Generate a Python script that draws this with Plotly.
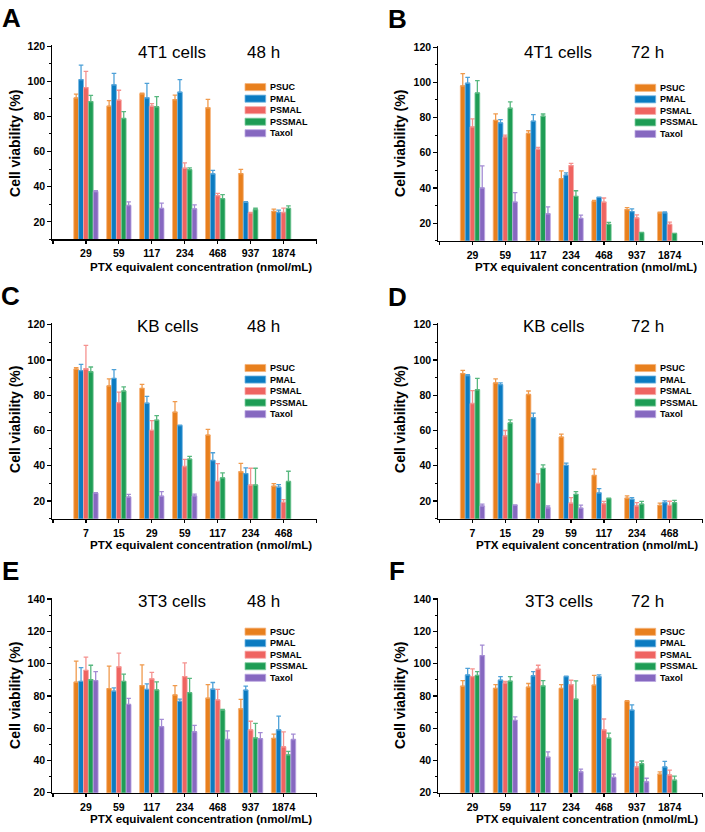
import plotly.graph_objects as go

# ---------------- data ----------------
series = ["PSUC", "PMAL", "PSMAL", "PSSMAL", "Taxol"]
fill_colors = ["#E8801E", "#0B7BC1", "#EF6461", "#1E9D55", "#8668C0"]
edge_colors = ["#F6B47C", "#72B5E2", "#F8AAA8", "#86CFA3", "#BDAAE2"]
err_colors = ["#F09A4C", "#4EA1D8", "#F5928F", "#58B87F", "#A48CD4"]

conc_4t1 = ["29", "59", "117", "234", "468", "937", "1874"]
conc_kb = ["7", "15", "29", "59", "117", "234", "468"]
conc_3t3 = ["29", "59", "117", "234", "468", "937", "1874"]

# rows: PSUC, PMAL, PSMAL, PSSMAL, Taxol
a_mean = [
    [90.5, 85.8, 92.9, 89.5, 84.9, 47.4, 25.9],
    [100.9, 98.0, 90.6, 93.8, 47.3, 31.2, 25.3],
    [96.4, 89.3, 85.8, 50.5, 34.9, 25.1, 25.3],
    [88.4, 78.8, 85.5, 49.7, 33.2, 27.0, 27.6],
    [37.2, 29.3, 27.6, 27.4, None, None, None],
]
a_err = [
    [2.2, 3.2, 0.4, 2.6, 4.8, 2.4, 1.3],
    [8.3, 6.5, 8.2, 7.1, 2.0, 0.3, 1.3],
    [9.2, 5.6, 1.5, 3.1, 1.3, 0.3, 2.5],
    [3.6, 3.9, 5.8, 1.0, 2.3, 0.8, 1.5],
    [0.5, 2.0, 3.0, 2.2, None, None, None],
]
b_mean = [
    [98.0, 78.4, 71.0, 45.3, 32.4, 27.7, 25.9],
    [99.5, 77.0, 78.0, 47.3, 34.6, 26.6, 25.9],
    [74.7, 69.0, 62.0, 52.7, 32.0, 23.0, 19.3],
    [94.0, 85.3, 80.8, 35.2, 19.3, 14.7, 14.2],
    [40.0, 32.0, 25.3, 22.7, None, None, None],
]
b_err = [
    [7.0, 3.7, 1.5, 4.4, 0.6, 1.1, 0.4],
    [3.3, 1.8, 3.7, 1.3, 0.2, 1.5, 0.5],
    [4.5, 1.0, 1.0, 1.3, 2.3, 1.7, 1.3],
    [7.0, 3.6, 1.2, 3.2, 1.2, 0.0, 0.0],
    [12.5, 5.3, 3.9, 1.9, None, None, None],
]
c_mean = [
    [94.8, 85.3, 83.8, 70.4, 57.4, 36.6, 28.4],
    [94.0, 89.5, 75.5, 62.8, 43.0, 35.6, 27.9],
    [95.0, 75.8, 60.1, 39.6, 31.2, 29.1, 19.3],
    [93.3, 82.4, 65.9, 43.8, 33.2, 29.1, 31.1],
    [24.5, 22.3, 22.8, 22.9, None, None, None],
]
c_err = [
    [0.8, 4.0, 2.4, 6.0, 3.2, 4.8, 1.5],
    [3.5, 5.0, 3.8, 0.3, 4.4, 3.2, 1.4],
    [13.3, 6.0, 5.5, 4.0, 10.0, 9.5, 1.5],
    [2.7, 2.3, 2.5, 1.5, 2.8, 9.5, 5.8],
    [0.3, 1.5, 2.6, 1.0, None, None, None],
]
d_mean = [
    [92.3, 87.0, 80.4, 56.3, 34.5, 21.6, 17.5],
    [91.1, 86.0, 67.3, 40.2, 24.6, 21.0, 19.1],
    [75.3, 57.0, 30.0, 18.8, 18.5, 17.3, 17.6],
    [83.1, 64.3, 38.5, 23.8, 21.4, 18.3, 19.1],
    [17.2, 17.6, 16.2, 16.0, None, None, None],
]
d_err = [
    [1.8, 2.3, 2.0, 1.6, 3.6, 1.3, 1.3],
    [0.5, 1.0, 2.6, 1.3, 2.5, 1.0, 1.0],
    [7.3, 3.0, 5.4, 3.2, 1.3, 1.8, 2.3],
    [6.5, 1.7, 2.0, 1.6, 0.3, 1.5, 1.3],
    [1.1, 0.2, 1.0, 1.7, None, None, None],
]
e_mean = [
    [88.5, 84.5, 86.4, 80.6, 78.6, 72.0, 53.7],
    [89.0, 83.0, 84.0, 76.6, 84.2, 83.6, 59.0],
    [95.8, 98.0, 90.6, 92.0, 77.5, 59.0, 48.5],
    [90.0, 89.0, 83.7, 82.0, 71.3, 54.0, 43.5],
    [89.5, 74.7, 61.0, 57.8, 53.0, 53.5, 53.0],
]
e_err = [
    [13.0, 14.0, 12.8, 5.8, 8.4, 5.8, 2.6],
    [8.5, 2.0, 3.5, 1.4, 4.1, 2.4, 8.5],
    [8.2, 8.5, 4.0, 8.4, 6.5, 5.3, 9.2],
    [9.0, 4.5, 5.0, 8.8, 0.3, 9.0, 2.1],
    [5.5, 3.8, 4.5, 4.0, 5.3, 3.8, 3.3],
]
f_mean = [
    [86.0, 84.7, 85.5, 84.7, 86.7, 76.6, 31.5],
    [93.0, 89.8, 92.5, 92.0, 91.8, 71.2, 36.0],
    [92.0, 88.0, 96.5, 87.0, 59.0, 36.0, 31.0],
    [92.7, 89.2, 86.2, 78.0, 53.8, 38.0, 27.8],
    [105.0, 64.8, 42.0, 33.0, 29.5, 26.8, None],
]
f_err = [
    [3.5, 2.3, 2.2, 2.3, 6.0, 0.4, 1.5],
    [4.0, 2.2, 2.5, 0.2, 1.2, 3.3, 3.4],
    [4.7, 1.0, 2.5, 2.7, 6.7, 3.0, 3.0],
    [2.3, 2.8, 3.3, 11.3, 3.2, 1.7, 2.5],
    [6.5, 2.2, 3.3, 1.7, 2.0, 2.2, None],
]

y_title = "Cell viability (%)"
x_title = "PTX equivalent concentration (nmol/mL)"

# ---------------- layout geometry (pixels) ----------------
W, H = 705, 832
FONT = "Liberation Sans, Arial, sans-serif"


def fx(px):
    return px / W


def fy(py):
    return 1 - py / H


panels = [
    dict(letter="A", cell="4T1 cells", time="48 h", conc=conc_4t1, mean=a_mean, err=a_err,
         xpx=(52, 316.5), ypx=(39.3, 236.8), yr=(10, 120.8), xr=(-1.03, 7),
         letter_pos=(11.7, 12.5), cell_pos=(172, 47), time_pos=(263, 47),
         ytitle_pos=(15, 140), xtitle_pos=(201, 264), leg=(245, 82.3)),
    dict(letter="B", cell="4T1 cells", time="72 h", conc=conc_4t1, mean=b_mean, err=b_err,
         xpx=(438, 702.5), ypx=(40.3, 238.2), yr=(10, 120.8), xr=(-1.05, 7),
         letter_pos=(397, 13.3), cell_pos=(558, 47.5), time_pos=(647, 47.5),
         ytitle_pos=(400, 140), xtitle_pos=(585.5, 264.5), leg=(635, 83)),
    dict(letter="C", cell="KB cells", time="48 h", conc=conc_kb, mean=c_mean, err=c_err,
         xpx=(52, 316.5), ypx=(321.9, 520.2), yr=(10, 120.8), xr=(-1.03, 7),
         letter_pos=(10, 294), cell_pos=(167, 325), time_pos=(263, 325),
         ytitle_pos=(15, 420), xtitle_pos=(201, 546), leg=(245, 367.3)),
    dict(letter="D", cell="KB cells", time="72 h", conc=conc_kb, mean=d_mean, err=d_err,
         xpx=(438, 702.5), ypx=(321.9, 520.2), yr=(10, 120.8), xr=(-1.05, 7),
         letter_pos=(397, 295), cell_pos=(553, 325), time_pos=(647, 325),
         ytitle_pos=(400, 420), xtitle_pos=(587, 546), leg=(635, 367.3)),
    dict(letter="E", cell="3T3 cells", time="48 h", conc=conc_3t3, mean=e_mean, err=e_err,
         xpx=(52, 316.5), ypx=(600.9, 798.3), yr=(20, 140.5), xr=(-1.03, 7),
         letter_pos=(10, 573), cell_pos=(172, 604), time_pos=(263, 604),
         ytitle_pos=(15, 700), xtitle_pos=(201, 824), leg=(245, 634.8)),
    dict(letter="F", cell="3T3 cells", time="72 h", conc=conc_3t3, mean=f_mean, err=f_err,
         xpx=(438, 702.5), ypx=(600.9, 798.3), yr=(20, 140.5), xr=(-1.05, 7),
         letter_pos=(397, 573), cell_pos=(559, 604), time_pos=(647, 604),
         ytitle_pos=(400, 700), xtitle_pos=(587, 824), leg=(635, 635)),
]

fig = go.Figure()
annotations = []
shapes = []
layout_axes = {}

tickfont = dict(family=FONT, size=10.5, color="black", weight="bold")

for i, p in enumerate(panels):
    k = "" if i == 0 else str(i + 1)
    xref, yref = "x" + k, "y" + k
    xs = list(range(len(p["conc"])))
    for s, name in enumerate(series):
        vals = p["mean"][s]
        errs = p["err"][s]
        fig.add_trace(go.Bar(
            x=xs, y=vals, name=name, xaxis=xref, yaxis=yref,
            marker=dict(color=fill_colors[s], line=dict(color=edge_colors[s], width=0.8)),
            error_y=dict(type="data", array=errs, arrayminus=[0] * len(errs),
                         symmetric=False, color=err_colors[s], thickness=1.3, width=2.3),
            showlegend=False,
        ))
    layout_axes["xaxis" + k] = dict(
        domain=[fx(p["xpx"][0]), fx(p["xpx"][1])], range=list(p["xr"]), anchor=yref,
        tickmode="array", tickvals=list(range(-1, len(p["conc"]) + 1)),
        ticktext=[""] + p["conc"] + [""],
        ticks="outside", ticklen=3, tickwidth=1.2, tickcolor="black",
        ticklabelstandoff=1,
        showline=True, linecolor="black", linewidth=1.3, showgrid=False, zeroline=False,
        tickfont=tickfont, fixedrange=True,
    )
    layout_axes["yaxis" + k] = dict(
        domain=[fy(p["ypx"][1]), fy(p["ypx"][0])], range=list(p["yr"]), anchor=xref,
        tick0=0, dtick=20, ticks="outside", ticklen=3.5, tickwidth=1.2, tickcolor="black",
        minor=dict(ticks="outside", ticklen=2, tickwidth=1, tickcolor="black", dtick=10, tick0=0),
        showline=True, linecolor="black", linewidth=1.3, showgrid=False, zeroline=False,
        tickfont=tickfont, fixedrange=True,
    )
    # texts
    annotations.append(dict(text=p["letter"], x=fx(p["letter_pos"][0]), y=fy(p["letter_pos"][1]),
                            xref="paper", yref="paper", showarrow=False, xanchor="center", yanchor="middle",
                            font=dict(family=FONT, size=26, color="black", weight="bold")))
    for key in ("cell", "time"):
        pos = p[key + "_pos"]
        annotations.append(dict(text=p[key], x=fx(pos[0]), y=fy(pos[1]), xref="paper", yref="paper",
                                showarrow=False, xanchor="center", yanchor="middle",
                                font=dict(family=FONT, size=17, color="black")))
    annotations.append(dict(text=y_title, x=fx(p["ytitle_pos"][0]), y=fy(p["ytitle_pos"][1]),
                            xref="paper", yref="paper", showarrow=False, textangle=-90,
                            xanchor="center", yanchor="middle",
                            font=dict(family=FONT, size=14, color="black", weight="bold")))
    annotations.append(dict(text=x_title, x=fx(p["xtitle_pos"][0]), y=fy(p["xtitle_pos"][1]),
                            xref="paper", yref="paper", showarrow=False,
                            xanchor="center", yanchor="middle",
                            font=dict(family=FONT, size=11.6, color="black", weight="bold")))
    # legend (boxes + labels)
    lx, ly = p["leg"]
    for s, name in enumerate(series):
        cy = ly + s * 11.7
        shapes.append(dict(type="rect", xref="paper", yref="paper",
                           x0=fx(lx), x1=fx(lx + 20.7), y0=fy(cy + 3.6), y1=fy(cy - 3.6),
                           fillcolor=fill_colors[s], line=dict(color=edge_colors[s], width=0.8)))
        annotations.append(dict(text=name, x=fx(lx + 23.3), y=fy(cy), xref="paper", yref="paper",
                                showarrow=False, xanchor="left", yanchor="middle",
                                font=dict(family=FONT, size=9, color="black", weight="bold")))

fig.update_layout(
    width=W, height=H, margin=dict(l=0, r=0, t=0, b=0),
    paper_bgcolor="white", plot_bgcolor="white",
    barmode="group", bargap=0.26, bargroupgap=0.0,
    showlegend=False, annotations=annotations, shapes=shapes,
    font=dict(family=FONT, color="black"),
    **layout_axes,
)

fig.write_html(
    "out.html",
    config={"displayModeBar": False, "staticPlot": True},
    post_script=(
        "document.body.style.margin='0px';"
        "document.body.style.padding='0px';"
        "document.body.style.overflow='hidden';"
        "document.documentElement.style.overflow='hidden';"
    ),
)
